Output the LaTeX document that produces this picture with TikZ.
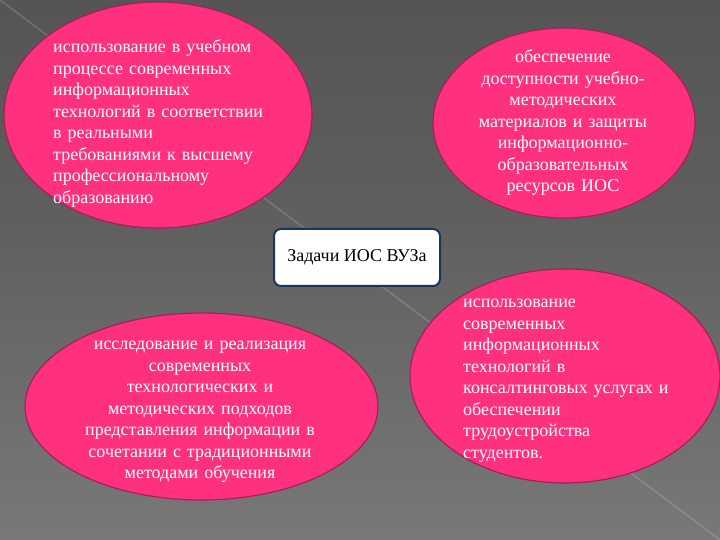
\documentclass[tikz,border=0pt]{standalone}
\usepackage{fontspec}
\setmainfont{Liberation Serif}
\usetikzlibrary{shapes.geometric}
\definecolor{pinkfill}{RGB}{255,48,125}
\definecolor{pinkedge}{RGB}{165,32,88}
\definecolor{navy}{RGB}{23,54,93}
\definecolor{bgtop}{RGB}{72,72,72}
\definecolor{bgmidA}{RGB}{95,95,95}
\definecolor{bgmidB}{RGB}{112,112,112}
\definecolor{bgbot}{RGB}{140,140,140}
\pgfdeclareverticalshading{bgshade}{100bp}{color(0bp)=(bgbot); color(35bp)=(bgmidB); color(55bp)=(bgmidA); color(100bp)=(bgtop)}
\begin{document}
\begin{tikzpicture}[x=1pt,y=1pt,
  bubble/.style={ellipse, draw=pinkedge, line width=1.2pt, fill=pinkfill, inner sep=0pt},
  btext/.style={text=white, font=\fontsize{18}{21.5}\selectfont, inner sep=0pt},
  leftt/.style={btext, align=left, text width=270pt, anchor=base west},
  centt/.style={btext, align=center, text width=300pt, anchor=base},
  taskbox/.style={draw=navy, line width=2pt, fill=white, rounded corners=7pt,
    minimum width=166pt, minimum height=57pt, inner sep=0pt,
    font=\fontsize{18}{21.5}\selectfont, text=black}]
\useasboundingbox (0,0) rectangle (720,540);
\shade[shading=bgshade] (0,0) rectangle (720,540);
\draw[white, opacity=0.16, line width=1.5pt] (0,540) -- (720,0);

\node[bubble, minimum width=308pt, minimum height=226pt] (e1) at (158,425) {};
\node[bubble, minimum width=262pt, minimum height=190pt] (e2) at (564,417) {};
\node[bubble, minimum width=353pt, minimum height=187pt] (e3) at (201.5,133.5) {};
\node[bubble, minimum width=310pt, minimum height=214pt] (e4) at (565,164) {};

\node[taskbox] (task) at (357,282.5) {Задачи ИОС ВУЗа};

\node[leftt] (t1) at (53,487) {использование в учебном\\процессе современных\\информационных\\технологий в соответствии\\в реальными\\требованиями к высшему\\профессиональному\\образованию};
\node[centt] (t2) at (563,477) {обеспечение\\доступности учебно-\\методических\\материалов и защиты\\информационно-\\образовательных\\ресурсов ИОС};
\node[centt] (t3) at (200,190) {исследование и реализация\\современных\\технологических и\\методических подходов\\представления информации в\\сочетании с традиционными\\методами обучения};
\node[leftt] (t4) at (463,232) {использование\\современных\\информационных\\технологий в\\консалтинговых услугах и\\обеспечении\\трудоустройства\\студентов.};
\end{tikzpicture}
\end{document}
